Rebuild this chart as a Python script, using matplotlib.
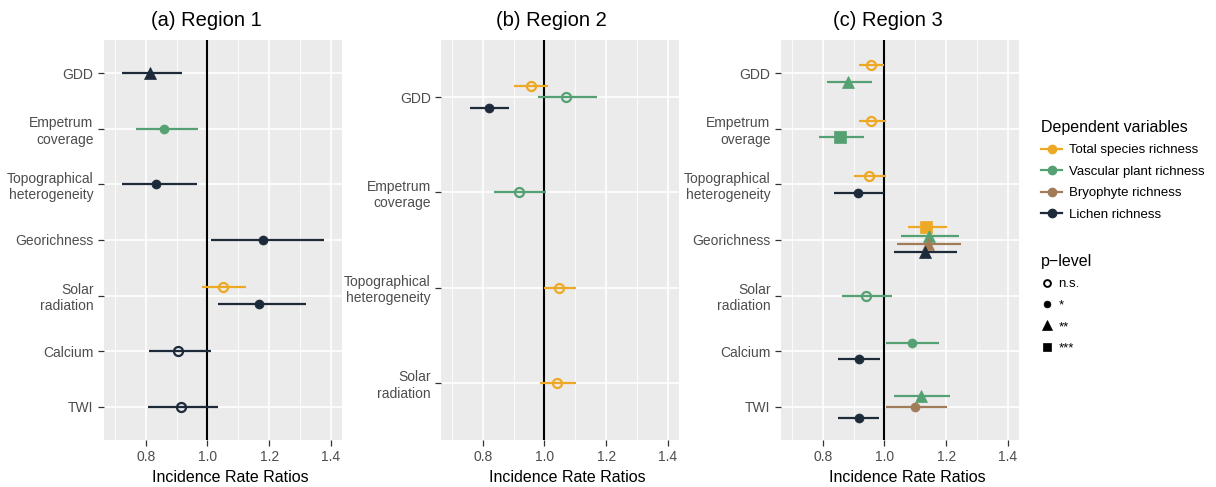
import numpy as np
import matplotlib.pyplot as plt
from matplotlib.lines import Line2D

plt.rcParams['font.family'] = ['Liberation Sans', 'DejaVu Sans']

# series / p-level definitions
series = ['Total species richness', 'Vascular plant richness', 'Bryophyte richness', 'Lichen richness']
series_colors = ['#EDA925', '#55A173', '#A27C58', '#1C2A3A']
plevels = ['n.s.', '*', '**', '***']

# Region 1
r1_vars = ['GDD', 'Empetrum\ncoverage', 'Topographical\nheterogeneity', 'Georichness',
           'Solar\nradiation', 'Calcium', 'TWI']
r1_var = [0, 1, 2, 3, 4, 4, 5, 6]
r1_ser = [3, 1, 3, 3, 0, 3, 3, 3]
r1_irr = [0.814, 0.860, 0.834, 1.181, 1.052, 1.168, 0.906, 0.914]
r1_lo = [0.724, 0.768, 0.724, 1.012, 0.983, 1.033, 0.811, 0.807]
r1_hi = [0.917, 0.969, 0.965, 1.377, 1.124, 1.318, 1.012, 1.034]
r1_p = [2, 1, 1, 1, 0, 1, 0, 0]

# Region 2
r2_vars = ['GDD', 'Empetrum\ncoverage', 'Topographical\nheterogeneity', 'Solar\nradiation']
r2_var = [0, 0, 0, 1, 2, 3]
r2_ser = [0, 1, 3, 1, 0, 0]
r2_irr = [0.955, 1.070, 0.820, 0.917, 1.046, 1.042]
r2_lo = [0.902, 0.979, 0.760, 0.838, 0.998, 0.986]
r2_hi = [1.012, 1.170, 0.885, 1.006, 1.102, 1.102]
r2_p = [0, 0, 1, 0, 0, 0]

# Region 3
r3_vars = ['GDD', 'Empetrum\noverage', 'Topographical\nheterogeneity', 'Georichness',
           'Solar\nradiation', 'Calcium', 'TWI']
r3_var = [0, 0, 1, 1, 2, 2, 3, 3, 3, 3, 4, 5, 5, 6, 6, 6]
r3_ser = [0, 1, 0, 1, 0, 3, 0, 1, 2, 3, 1, 1, 3, 1, 2, 3]
r3_irr = [0.957, 0.883, 0.958, 0.857, 0.949, 0.914, 1.136, 1.145, 1.141, 1.130,
          0.941, 1.089, 0.916, 1.118, 1.098, 0.916]
r3_lo = [0.918, 0.813, 0.918, 0.789, 0.900, 0.836, 1.075, 1.052, 1.042, 1.032,
         0.864, 1.006, 0.851, 1.030, 1.004, 0.851]
r3_hi = [1.000, 0.959, 1.004, 0.933, 1.006, 0.999, 1.204, 1.242, 1.248, 1.235,
         1.023, 1.177, 0.985, 1.211, 1.202, 0.983]
r3_p = [0, 2, 0, 3, 0, 1, 3, 2, 2, 2, 0, 1, 1, 2, 1, 1]

marker_of = {0: 'o', 1: 'o', 2: '^', 3: 's'}
size_of = {0: 6.5, 1: 6.5, 2: 9, 3: 8}

fig = plt.figure(figsize=(12.16, 4.87), dpi=100)
bottom, top = 0.0965, 0.918
lefts = [0.0855, 0.3627, 0.6423]
width = 0.196

panels = [
    ('(a) Region 1', r1_vars, r1_var, r1_ser, r1_irr, r1_lo, r1_hi, r1_p, 0.6, 0.43),
    ('(b) Region 2', r2_vars, r2_var, r2_ser, r2_irr, r2_lo, r2_hi, r2_p, 0.35, 0.462),
    ('(c) Region 3', r3_vars, r3_var, r3_ser, r3_irr, r3_lo, r3_hi, r3_p, 0.6, 0.45),
]

for left, (title, vars_, vi, si, irr, lo, hi, pl, dw, tx) in zip(lefts, panels):
    ax = fig.add_axes([left, bottom, width, top - bottom])
    ax.set_facecolor('#EBEBEB')
    for s in ax.spines.values():
        s.set_visible(False)
    n = len(vars_)
    ax.set_xlim(0.665, 1.437)
    ax.set_ylim(n - 1 + 0.6, -0.6)
    ax.set_xticks([0.8, 1.0, 1.2, 1.4])
    ax.set_xticks([0.7, 0.9, 1.1, 1.3], minor=True)
    ax.set_yticks(range(n))
    ax.set_yticklabels(vars_)
    ax.grid(True, which='major', color='white', linewidth=1.2)
    ax.grid(True, which='minor', axis='x', color='white', linewidth=0.6)
    ax.set_axisbelow(True)
    ax.tick_params(which='major', colors='#333333', labelcolor='#4D4D4D',
                   labelsize=10, length=4, width=0.9)
    ax.tick_params(which='minor', length=0)
    ax.axvline(1.0, color='black', linewidth=1.5, zorder=2)

    # dodge points of the same variable
    for k in range(len(irr)):
        same = sorted(si[j] for j in range(len(irr)) if vi[j] == vi[k])
        m = len(same)
        pos = same.index(si[k])
        y = vi[k] + (pos - (m - 1) / 2) * dw / m
        c = series_colors[si[k]]
        ax.plot([lo[k], hi[k]], [y, y], color=c, linewidth=1.6, zorder=3,
                solid_capstyle='butt')
        face = 'none' if pl[k] == 0 else c
        ax.plot(irr[k], y, marker=marker_of[pl[k]], markersize=size_of[pl[k]],
                markerfacecolor=face, markeredgecolor=c,
                markeredgewidth=1.6 if pl[k] == 0 else 0.5, zorder=4)

    ax.set_title(title, fontsize=14.5, pad=10, x=tx)
    ax.set_xlabel('Incidence Rate Ratios', fontsize=11.5, labelpad=4, x=0.53)

# legends
h1 = [Line2D([], [], color=c, marker='o', markersize=6, linewidth=1.6) for c in series_colors]
leg1 = fig.legend(h1, series, title='Dependent variables', loc='upper left',
                  bbox_to_anchor=(0.852, 0.765), frameon=False, fontsize=9.5,
                  title_fontsize=11.5, handlelength=1.6, handletextpad=0.5,
                  labelspacing=0.7, borderaxespad=0)
leg1._legend_box.align = 'left'
h2 = [Line2D([], [], color='black', marker=marker_of[i], markersize=size_of[i] * 0.75,
             markerfacecolor='none' if i == 0 else 'black', markeredgewidth=1.4 if i == 0 else 0.5,
             linestyle='none') for i in range(4)]
leg2 = fig.legend(h2, plevels, title='p\u2212level', loc='upper left',
                  bbox_to_anchor=(0.852, 0.49), frameon=False, fontsize=9.5,
                  title_fontsize=11.5, handlelength=0.8, handletextpad=0.5,
                  labelspacing=0.7, borderaxespad=0)
leg2._legend_box.align = 'left'

plt.savefig('out.png', dpi=100)
